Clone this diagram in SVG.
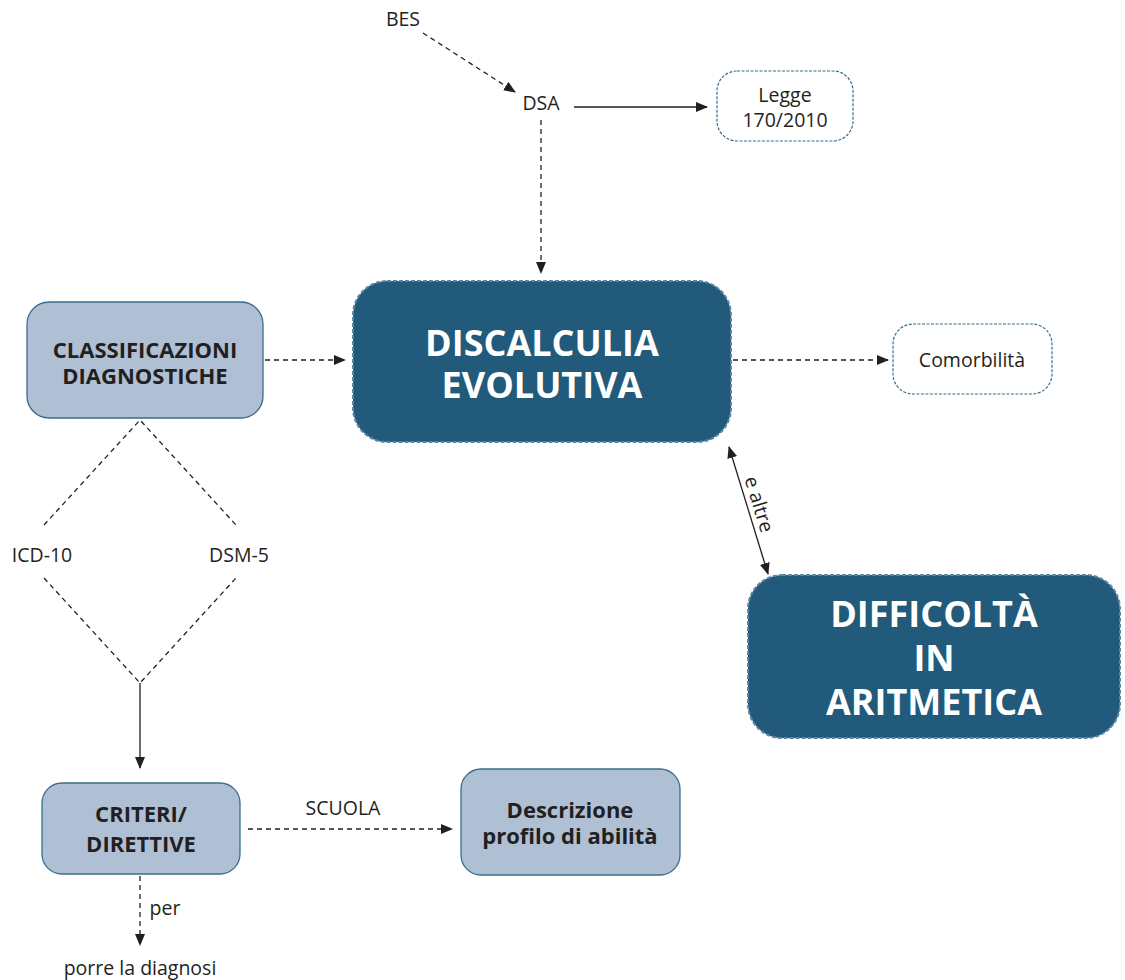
<svg xmlns="http://www.w3.org/2000/svg" width="1125" height="980" viewBox="0 0 1125 980">
<style>
.dark{fill:#215a7a;stroke:#5a86a6;stroke-width:2;stroke-dasharray:4 2}
.light{fill:#b0c0d4;stroke:#3a6d8c;stroke-width:1.3}
.white{fill:#fff;stroke:#3a6d8c;stroke-width:1.2;stroke-dasharray:3 1.5}
.big{font-family:"Open Sans","Noto Sans",sans-serif;font-weight:bold;font-size:36px;fill:#fff;text-anchor:middle}
.mid{font-family:"Open Sans","Noto Sans",sans-serif;font-weight:bold;font-size:22px;fill:#231f20;text-anchor:middle}
.lab{font-family:"Open Sans","Noto Sans",sans-serif;font-size:19.5px;fill:#231f20;text-anchor:middle}
.c{fill:none;stroke:#231f20;stroke-width:1.3}
.d{stroke-dasharray:5 4}
</style>
<defs>
<marker id="ah" viewBox="0 0 12 10" refX="11" refY="5" markerWidth="12" markerHeight="10" markerUnits="userSpaceOnUse" orient="auto-start-reverse">
<path d="M0,0 L12,5 L0,10 Z" fill="#231f20"/>
</marker>
</defs>
<g id="connectors">
<line class="c d" x1="423" y1="33" x2="515" y2="92" marker-end="url(#ah)"/>
<line class="c" x1="574" y1="107" x2="707" y2="107" marker-end="url(#ah)"/>
<line class="c d" x1="541" y1="120" x2="541" y2="273" marker-end="url(#ah)"/>
<line class="c d" x1="265" y1="360" x2="345" y2="360" marker-end="url(#ah)"/>
<line class="c d" x1="733" y1="360" x2="888" y2="360" marker-end="url(#ah)"/>
<line class="c" x1="729" y1="447" x2="768" y2="574" marker-start="url(#ah)" marker-end="url(#ah)"/>
<polyline class="c d" points="44,525 140,420 236,525"/>
<polyline class="c d" points="44,578 140,683 236,578"/>
<line class="c" x1="140" y1="683" x2="140" y2="768" marker-end="url(#ah)"/>
<line class="c d" x1="248" y1="829" x2="452" y2="829" marker-end="url(#ah)"/>
<line class="c d" x1="140" y1="876" x2="140" y2="945" marker-end="url(#ah)"/>
<text class="lab" transform="translate(747,508) rotate(73)" y="-6">e altre</text>
</g>
<g id="bes"><text class="lab" x="403" y="26">BES</text></g>
<g id="dsa"><text class="lab" x="541" y="110">DSA</text></g>
<g id="legge">
<rect class="white" x="717" y="71" width="136" height="70" rx="20"/>
<text class="lab" x="785" y="102">Legge</text>
<text class="lab" x="785" y="127">170/2010</text>
</g>
<g id="discalculia">
<rect class="dark" x="353" y="281" width="378" height="161" rx="34"/>
<text class="big" x="542" y="356">DISCALCULIA</text>
<text class="big" x="542" y="398">EVOLUTIVA</text>
</g>
<g id="comorbilita">
<rect class="white" x="893" y="324" width="159" height="70" rx="20"/>
<text class="lab" x="972" y="367">Comorbilità</text>
</g>
<g id="difficolta">
<rect class="dark" x="748" y="575" width="372" height="163" rx="34"/>
<text class="big" x="934" y="627">DIFFICOLTÀ</text>
<text class="big" x="934" y="671">IN</text>
<text class="big" x="934" y="715">ARITMETICA</text>
</g>
<g id="classificazioni">
<rect class="light" x="27" y="302" width="236" height="116" rx="22"/>
<text class="mid" x="145" y="358">CLASSIFICAZIONI</text>
<text class="mid" x="145" y="384">DIAGNOSTICHE</text>
</g>
<g id="icd"><text class="lab" x="42" y="562">ICD-10</text></g>
<g id="dsm"><text class="lab" x="239" y="562">DSM-5</text></g>
<g id="criteri">
<rect class="light" x="42" y="783" width="198" height="91" rx="20"/>
<text class="mid" x="141" y="822">CRITERI/</text>
<text class="mid" x="141" y="852">DIRETTIVE</text>
</g>
<g id="scuola"><text class="lab" x="343" y="815">SCUOLA</text></g>
<g id="descrizione">
<rect class="light" x="461" y="769" width="219" height="106" rx="20"/>
<text class="mid" x="570" y="818">Descrizione</text>
<text class="mid" x="570" y="844">profilo di abilità</text>
</g>
<g id="per"><text class="lab" x="165" y="915">per</text></g>
<g id="diagnosi"><text class="lab" x="140" y="975">porre la diagnosi</text></g>
</svg>
